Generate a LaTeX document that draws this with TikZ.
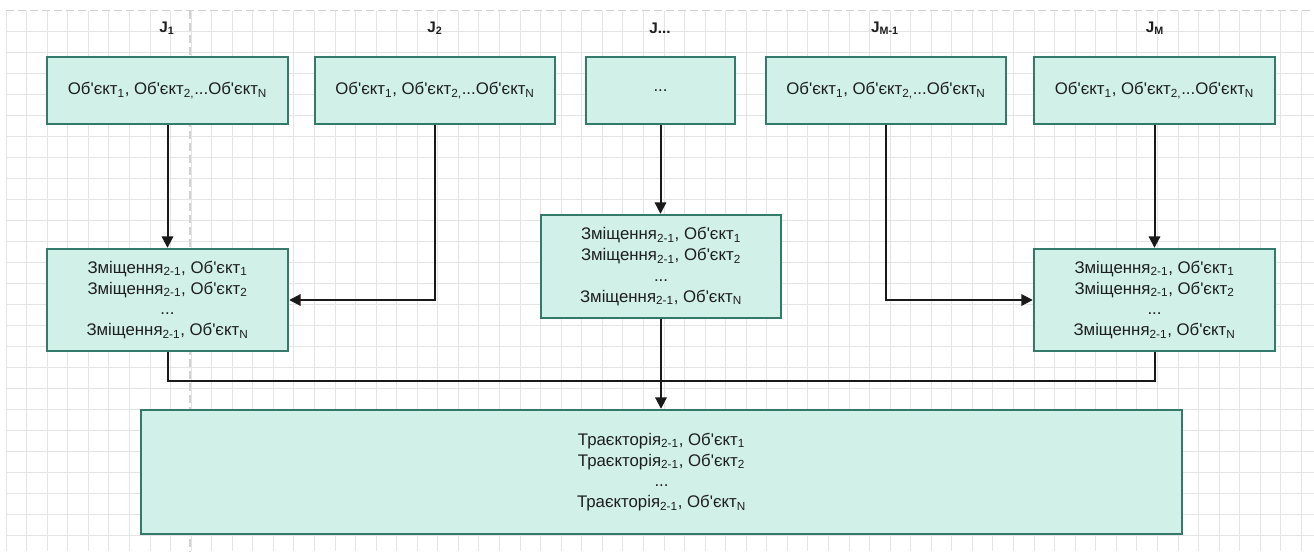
\documentclass[tikz,border=0pt]{standalone}
\usepackage{fontspec}
\newfontfamily\uafont{Liberation Sans}
\usetikzlibrary{arrows.meta}
\definecolor{boxfill}{HTML}{D0F0E8}
\definecolor{boxline}{HTML}{347A6B}
\definecolor{gridc}{HTML}{E4E4E4}
\definecolor{pagec}{HTML}{D2D2D2}
\definecolor{txt}{HTML}{1E1E1E}
\newcommand{\ob}[1]{Об'єкт\textsubscript{#1}}
\newcommand{\zm}{Зміщення\textsubscript{2-1}}
\newcommand{\tr}{Траєкторія\textsubscript{2-1}}
\tikzset{
  gridline/.style={draw=gridc, line width=0.75pt},
  pageline/.style={draw=pagec, line width=1pt, dash pattern=on 6pt off 3pt},
  box/.style={draw=boxline, fill=boxfill, line width=1.8pt, align=center,
    text=txt, inner sep=0pt,
    font=\uafont\fontsize{12.6}{15.6}\selectfont},
  jlabel/.style={text=txt, inner sep=0pt,
    font=\uafont\bfseries\fontsize{11.5}{13}\selectfont},
  link/.style={draw=black!90, line width=1.5pt},
  arr/.style={link, -{Triangle[length=8.5pt,width=8.5pt]}},
}
\begin{document}
\begin{tikzpicture}[x=0.75pt,y=-0.75pt]
  \useasboundingbox[fill=white] (0,0) rectangle (1314,551);
  % canvas grid
  \foreach \k in {0,...,63}
    \draw[gridline] ({6.1+20.56*\k},10.7) -- ({6.1+20.56*\k},551);
  \foreach \k in {1,...,25}
    \draw[gridline] (6.1,{10.7+20.98*\k}) -- (1314,{10.7+20.98*\k});
  % page borders
  \draw[pageline] (6.1,10.7) -- (1314,10.7);
  \draw[pageline] (190,10.7) -- (190,551);

  % column labels
  \node[jlabel] (lj1) at (167,28) {J\textsubscript{1}};
  \node[jlabel] (lj2) at (435,28) {J\textsubscript{2}};
  \node[jlabel] (lj3) at (660,28) {J...};
  \node[jlabel] (lj4) at (885,28) {J\textsubscript{M-1}};
  \node[jlabel] (lj5) at (1155,28) {J\textsubscript{M}};

  % object sets
  \node[box, minimum width=180.75pt, minimum height=50.25pt] (b1) at (167.5,90.5) {\ob{1}, \ob{2,}...\ob{N}};
  \node[box, minimum width=180pt, minimum height=50.25pt] (b2) at (435,90.5) {\ob{1}, \ob{2,}...\ob{N}};
  \node[box, minimum width=111.75pt, minimum height=50.25pt] (b3) at (660.5,90.5) {...};
  \node[box, minimum width=180pt, minimum height=50.25pt] (b4) at (886,90.5) {\ob{1}, \ob{2,}...\ob{N}};
  \node[box, minimum width=180.75pt, minimum height=50.25pt] (b5) at (1154.5,90.5) {\ob{1}, \ob{2,}...\ob{N}};

  % displacements
  \node[box, minimum width=180.75pt, minimum height=76.5pt] (m1) at (167.5,300)
    {\zm, \ob{1}\\ \zm, \ob{2}\\ ...\\ \zm, \ob{N}};
  \node[box, minimum width=180pt, minimum height=77.25pt] (m2) at (661,266.5)
    {\zm, \ob{1}\\ \zm, \ob{2}\\ ...\\ \zm, \ob{N}};
  \node[box, minimum width=180.75pt, minimum height=76.5pt] (m3) at (1154.5,300)
    {\zm, \ob{1}\\ \zm, \ob{2}\\ ...\\ \zm, \ob{N}};

  % trajectories
  \node[box, minimum width=780.75pt, minimum height=93pt] (t) at (661.5,472)
    {\tr, \ob{1}\\ \tr, \ob{2}\\ ...\\ \tr, \ob{N}};

  % connectors
  \coordinate (j) at (661,381);
  \draw[arr] (b1.south) -- (m1.north);
  \draw[arr] (b2.south) |- (m1.east);
  \draw[arr] (b3.south) -- (b3.south |- m2.north);
  \draw[arr] (b4.south) |- (m3.west);
  \draw[arr] (b5.south) -- (m3.north);
  \draw[link] (m1.south) |- (j);
  \draw[link] (m3.south) |- (j);
  \draw[arr] (m2.south) -- (m2.south |- t.north);
\end{tikzpicture}
\end{document}
